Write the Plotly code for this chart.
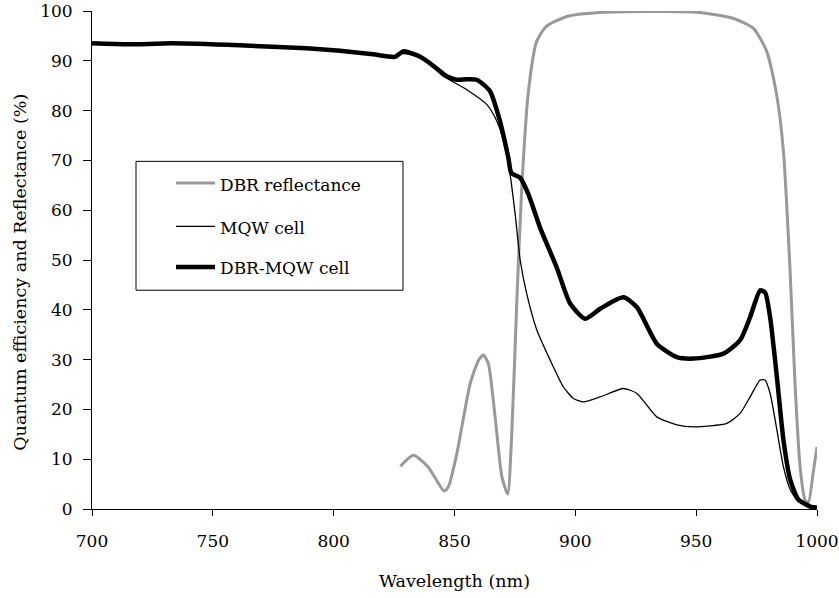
import plotly.graph_objects as go

# DBR reflectance (gray)
dbr_x = [827.6, 833, 839, 845.7, 847.5, 851, 856.5, 860, 862, 864, 866.8, 869.6, 872, 873.7,
         875.8, 877.9, 880.6, 884, 888, 896.5, 910, 938, 951.7, 965.5, 973.7, 979.2, 983.3,
         986.1, 988.8, 990.9, 993, 995, 996.4, 998.4, 1000]
dbr_y = [8.6, 10.8, 8.5, 3.6, 4.5, 11.2, 25.2, 29.9, 30.9, 29.2, 18.5, 6.5, 3.0, 15.2,
         41.9, 65.2, 83.9, 93.9, 96.9, 98.9, 99.7, 99.9, 99.7, 98.5, 96.5, 91.9, 83.2,
         71.9, 48.5, 25.2, 8.5, 1.9, 1.2, 7.2, 12.5]

# MQW cell (thin black)
mqw_x = [700, 715, 733.5, 761, 788.8, 802.6, 816.3, 824.6, 826.7, 830.2, 835.7, 840, 845.4,
         855.1, 863.4, 867.5, 870.3, 873, 875.1, 877.2, 879.9, 884.1, 889.6, 895.1, 899.2,
         903.4, 910.3, 919.9, 925.5, 933.7, 942, 948.9, 962.7, 968.2, 972.3, 976.5, 978.5,
         980.6, 983.4, 986.1, 988.9, 992.3, 1000]
mqw_y = [93.5, 93.3, 93.5, 93.1, 92.5, 92.0, 91.3, 90.7, 91.3, 91.4, 90.6, 89.2, 86.9,
         84.2, 81.2, 77.9, 73.9, 67.2, 59.2, 49.9, 43.2, 35.9, 29.9, 24.5, 22.2,
         21.5, 22.5, 24.2, 23.2, 18.5, 16.9, 16.5, 17.2, 19.2, 22.5, 25.9, 25.9,
         23.2, 15.9, 8.5, 3.9, 1.5, 0.4]

# DBR-MQW cell (thick black)
dm_x = [700, 715, 733.5, 761, 788.8, 802.6, 816.3, 825.4, 828.8, 831.7, 835, 839.9, 846.8,
        850.9, 855, 859.2, 864.7, 868.8, 872.3, 873.5, 877.2, 880.6, 885.4, 892.3, 897.9,
        904.1, 910.3, 919.9, 925.5, 933.7, 942, 948.9, 961.3, 968.2, 972.3, 976.5, 978.5,
        980.6, 983.4, 986.1, 988.9, 992.3, 997.2, 1000]
dm_y = [93.5, 93.3, 93.5, 93.1, 92.5, 92.0, 91.3, 90.8, 91.9, 91.6, 91.0, 89.5, 86.9,
        86.2, 86.3, 86.2, 83.9, 77.9, 70.5, 67.5, 66.5, 63.2, 56.5, 48.5, 41.2,
        38.2, 40.2, 42.5, 40.5, 33.2, 30.5, 30.2, 31.2, 33.9, 38.5, 43.9, 43.5,
        38.5, 26.5, 13.9, 5.9, 1.9, 0.5, 0.3]

names = ["DBR reflectance", "MQW cell", "DBR-MQW cell"]
colors = ["#999999", "black", "black"]
widths = [3, 1.3, 4.5]
x_ticks = [700, 750, 800, 850, 900, 950, 1000]
y_ticks = list(range(0, 101, 10))
x_title = "Wavelength (nm)"
y_title = "Quantum efficiency and Reflectance (%)"

FONT = "DejaVu Serif"
FS = 17
FS_T = 17.5

T, B = 10.5, 89
PH = 598 - T - B

fig = go.Figure()
for xs, ys, nm, c, w in zip([dbr_x, mqw_x, dm_x], [dbr_y, mqw_y, dm_y], names, colors, widths):
    fig.add_trace(go.Scatter(x=xs, y=ys, mode="lines", name=nm, showlegend=False,
                             line=dict(color=c, width=w, shape="spline", smoothing=0.6)))

# plot-area pixel helpers (plot: x 92..817, y T..598-B)
def px(xp):
    return (xp - 92) / 725.0

def py(yp):
    return (598 - B - yp) / PH

shapes = [dict(type="rect", xref="paper", yref="paper",
               x0=px(136), x1=px(403), y0=py(290), y1=py(161),
               line=dict(color="black", width=1), fillcolor="white", layer="above")]
annotations = []
rows = [182.7, 226.0, 266.7]
for nm, c, w, ry in zip(names, colors, widths, rows):
    shapes.append(dict(type="line", xref="paper", yref="paper",
                       x0=px(176), x1=px(215), y0=py(ry), y1=py(ry),
                       line=dict(color=c, width=w), layer="above"))
    annotations.append(dict(text=nm, xref="paper", yref="paper", x=px(218), y=py(ry + 1.5),
                            xanchor="left", yanchor="middle", showarrow=False,
                            font=dict(family=FONT, size=FS, color="black")))

annotations.append(dict(text=x_title, xref="paper", yref="paper", x=0.5, y=py(581),
                        xanchor="center", yanchor="middle", showarrow=False,
                        font=dict(family=FONT, size=FS_T, color="black")))
annotations.append(dict(text=y_title, xref="paper", yref="paper", x=px(20), y=py(272.5),
                        xanchor="center", yanchor="middle", showarrow=False, textangle=-90,
                        font=dict(family=FONT, size=FS_T, color="black")))

fig.update_layout(
    width=839, height=598,
    margin=dict(l=92, r=22, t=T, b=B, autoexpand=False),
    plot_bgcolor="white", paper_bgcolor="white",
    font=dict(family=FONT, size=FS, color="black"),
    showlegend=False,
    shapes=shapes,
    annotations=annotations,
    xaxis=dict(range=[700, 1000], tickvals=x_ticks, ticklabeloverflow="allow", automargin=False,
               showgrid=False, zeroline=False, showline=True, linecolor="black", linewidth=1,
               ticks="outside", ticklen=6, tickcolor="black", ticklabelstandoff=11),
    yaxis=dict(range=[0, 100], tickvals=y_ticks, ticklabeloverflow="allow", automargin=False,
               showgrid=False, zeroline=False, showline=True, linecolor="black", linewidth=1,
               ticks="outside", ticklen=8, tickcolor="black", ticklabelstandoff=7),
)

fig.write_html("out.html")
